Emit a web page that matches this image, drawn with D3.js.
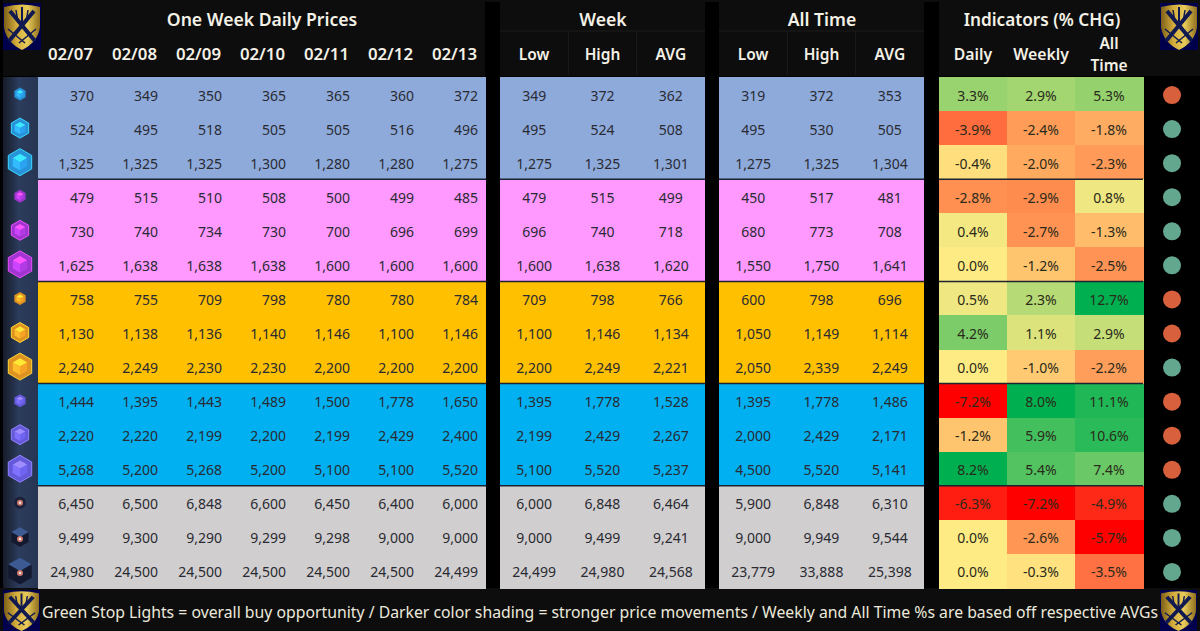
<!DOCTYPE html>
<html lang="en">
<head>
<meta charset="utf-8">
<title>One Week Daily Prices</title>
<script src="https://d3js.org/d3.v7.min.js"></script>
<style>
  html, body { margin: 0; padding: 0; background: #000; }
  svg { display: block; }
  text { font-family: "Noto Sans", sans-serif; }
</style>
</head>
<body>
<div id="vis"></div>
<script>
// table values
var dates = ["02/07", "02/08", "02/09", "02/10", "02/11", "02/12", "02/13"];
var statCols = ["Low", "High", "AVG"];
var indicatorCols = ["Daily", "Weekly", "All Time"];
var tierColors = ["#8eaadb", "#ff99ff", "#ffc000", "#00b0f0", "#d0cece"];
var iconColors = ["#2ba3f0", "#b23be6", "#f7a325", "#6f63f2", "#3d5a92"];

var daily = [
  [370, 349, 350, 365, 365, 360, 372],
  [524, 495, 518, 505, 505, 516, 496],
  [1325, 1325, 1325, 1300, 1280, 1280, 1275],
  [479, 515, 510, 508, 500, 499, 485],
  [730, 740, 734, 730, 700, 696, 699],
  [1625, 1638, 1638, 1638, 1600, 1600, 1600],
  [758, 755, 709, 798, 780, 780, 784],
  [1130, 1138, 1136, 1140, 1146, 1100, 1146],
  [2240, 2249, 2230, 2230, 2200, 2200, 2200],
  [1444, 1395, 1443, 1489, 1500, 1778, 1650],
  [2220, 2220, 2199, 2200, 2199, 2429, 2400],
  [5268, 5200, 5268, 5200, 5100, 5100, 5520],
  [6450, 6500, 6848, 6600, 6450, 6400, 6000],
  [9499, 9300, 9290, 9299, 9298, 9000, 9000],
  [24980, 24500, 24500, 24500, 24500, 24500, 24499]
];
var week = [
  [349, 372, 362], [495, 524, 508], [1275, 1325, 1301],
  [479, 515, 499], [696, 740, 718], [1600, 1638, 1620],
  [709, 798, 766], [1100, 1146, 1134], [2200, 2249, 2221],
  [1395, 1778, 1528], [2199, 2429, 2267], [5100, 5520, 5237],
  [6000, 6848, 6464], [9000, 9499, 9241], [24499, 24980, 24568]
];
var allTime = [
  [319, 372, 353], [495, 530, 505], [1275, 1325, 1304],
  [450, 517, 481], [680, 773, 708], [1550, 1750, 1641],
  [600, 798, 696], [1050, 1149, 1114], [2050, 2339, 2249],
  [1395, 1778, 1486], [2000, 2429, 2171], [4500, 5520, 5141],
  [5900, 6848, 6310], [9000, 9949, 9544], [23779, 33888, 25398]
];
var indicators = [
  [3.3, 2.9, 5.3], [-3.9, -2.4, -1.8], [-0.4, -2.0, -2.3],
  [-2.8, -2.9, 0.8], [0.4, -2.7, -1.3], [0.0, -1.2, -2.5],
  [0.5, 2.3, 12.7], [4.2, 1.1, 2.9], [0.0, -1.0, -2.2],
  [-7.2, 8.0, 11.1], [-1.2, 5.9, 10.6], [8.2, 5.4, 7.4],
  [-6.3, -7.2, -4.9], [0.0, -2.6, -5.7], [0.0, -0.3, -3.5]
];
// r = red light, g = green light
var lights = ["r", "g", "g", "g", "g", "g", "r", "r", "g", "r", "r", "r", "g", "g", "g"];
var footnote = "Green Stop Lights = overall buy opportunity / Darker color shading = stronger price movements / Weekly and All Time %s are based off respective AVGs";

var width = 1200, height = 631;
var svg = d3.select("#vis").append("svg").attr("width", width).attr("height", height);
var defs = svg.append("defs");

var gold = defs.append("linearGradient").attr("id", "gold");
gold.append("stop").attr("offset", "0%").attr("stop-color", "#7d5f18");
gold.append("stop").attr("offset", "35%").attr("stop-color", "#d4ad3c");
gold.append("stop").attr("offset", "65%").attr("stop-color", "#e8cb5a");
gold.append("stop").attr("offset", "100%").attr("stop-color", "#8f6f1e");

var iconBg = defs.append("linearGradient").attr("id", "iconBg").attr("x2", "1").attr("y2", "0");
iconBg.append("stop").attr("offset", "0%").attr("stop-color", "#161b28");
iconBg.append("stop").attr("offset", "45%").attr("stop-color", "#2c3c5c");
iconBg.append("stop").attr("offset", "100%").attr("stop-color", "#263552");

// page background
svg.append("rect").attr("width", width).attr("height", height).attr("fill", "#000");
svg.append("rect").attr("x", 3).attr("width", 1197).attr("height", 76).attr("fill", "#0d0d0d");
svg.append("rect").attr("y", 588).attr("width", width).attr("height", 43).attr("fill", "#0d0d0d");
[[485, 15], [705, 14], [924, 15]].forEach(function (d) {
  svg.append("rect").attr("x", d[0]).attr("y", 2).attr("width", d[1]).attr("height", 586).attr("fill", "#000");
});

// scales
var rowY = d3.scaleBand().domain(d3.range(15)).range([77, 588]);
var xDaily = d3.scaleBand().domain(d3.range(7)).range([38, 486]);
var xWeek = d3.scaleBand().domain(d3.range(3)).range([500, 705]);
var xAll = d3.scaleBand().domain(d3.range(3)).range([719, 924]);
var xInd = d3.scaleBand().domain(d3.range(3)).range([939, 1143]);
var fmt = d3.format(",");
var tierOf = function (i) { return Math.floor(i / 3); };

// excel style 3 colour scale, each indicator column has its own min and max
var colorInd = d3.range(3).map(function (c) {
  var ext = d3.extent(indicators, function (r) { return r[c]; });
  if (c === 2) {
    // all time reds ramp up late in the reference
    return d3.scaleLinear().domain([ext[0], -3.5, 0, ext[1]]).range(["#ff0000", "#ff7043", "#ffeb84", "#00b050"]);
  }
  return d3.scaleLinear().domain([ext[0], 0, ext[1]]).range(["#ff0000", "#ffeb84", "#00b050"]);
});

// tier bands behind each block of values
[xDaily, xWeek, xAll].forEach(function (x) {
  svg.append("g").attr("shape-rendering", "crispEdges").selectAll("rect").data(d3.range(15)).join("rect")
    .attr("x", x.range()[0]).attr("y", function (i) { return rowY(i); })
    .attr("width", x.range()[1] - x.range()[0]).attr("height", rowY.bandwidth() + 0.5)
    .attr("fill", function (i) { return tierColors[tierOf(i)]; });
});

function valueRows(rows, x, anchor) {
  rows.forEach(function (row, i) {
    svg.append("g").selectAll("text").data(row).join("text")
      .attr("x", function (d, c) { return anchor === "end" ? x(c) + x.bandwidth() - 8 : x(c) + x.bandwidth() / 2; })
      .attr("y", rowY(i) + rowY.bandwidth() / 2 + 6.5)
      .attr("text-anchor", anchor)
      .attr("font-size", 14)
      .attr("fill", "#2a2a33")
      .text(function (d) { return fmt(d); });
  });
}
valueRows(daily, xDaily, "end");
valueRows(week, xWeek, "middle");
valueRows(allTime, xAll, "middle");

// indicator heat cells
indicators.forEach(function (row, i) {
  var g = svg.append("g");
  g.selectAll("rect").data(row).join("rect")
    .attr("shape-rendering", "crispEdges")
    .attr("x", function (d, c) { return xInd(c); })
    .attr("y", rowY(i)).attr("width", xInd.bandwidth() + 0.5).attr("height", rowY.bandwidth() + 0.5)
    .attr("fill", function (d, c) { return colorInd[c](d); });
  g.selectAll("text").data(row).join("text")
    .attr("x", function (d, c) { return xInd(c) + xInd.bandwidth() / 2; })
    .attr("y", rowY(i) + rowY.bandwidth() / 2 + 6.5)
    .attr("text-anchor", "middle").attr("font-size", 14)
    .attr("fill", "#2a2a1a")
    .text(function (d) { return d.toFixed(1) + "%"; });
});

// separators between tiers
[3, 6, 9, 12].forEach(function (i) {
  [[38, 486], [500, 705], [719, 924], [939, 1143]].forEach(function (p) {
    svg.append("line").attr("x1", p[0]).attr("x2", p[1])
      .attr("y1", rowY(i)).attr("y2", rowY(i))
      .attr("stroke", "#1b2230").attr("stroke-width", 1.5);
  });
});

// stop lights
svg.append("g").selectAll("circle").data(lights).join("circle")
  .attr("cx", 1172).attr("cy", function (d, i) { return rowY(i) + rowY.bandwidth() / 2 + 1; })
  .attr("r", 9)
  .attr("fill", function (d) { return d === "r" ? "#d9603c" : "#64a78f"; });

// tier icons
svg.append("rect").attr("x", 3).attr("y", 77).attr("width", 35).attr("height", 511).attr("fill", "url(#iconBg)");
var hex = function (r) {
  return d3.range(6).map(function (k) {
    var a = Math.PI / 3 * k - Math.PI / 2;
    return [r * Math.cos(a), r * Math.sin(a)];
  });
};
d3.range(15).forEach(function (i) {
  var t = tierOf(i), size = [6.5, 10, 13.5][i % 3];
  var base = d3.color(iconColors[t]);
  var g = svg.append("g")
    .attr("transform", "translate(20," + (rowY(i) + rowY.bandwidth() / 2) + ")");
  var h = hex(size);
  if (t === 4) {
    // dark cubes with a glowing core
    if (i % 3) {
      g.append("path").attr("d", d3.line()(h) + "Z").attr("fill", "#131a30");
      g.append("path").attr("d", d3.line()([h[0], h[1], [0, 0], h[5]]) + "Z").attr("fill", base);
    } else {
      g.append("circle").attr("r", 6).attr("fill", "#1a2038");
    }
    g.append("circle").attr("cy", i % 3 ? 2 : 0).attr("r", 3).attr("fill", "#c9766c");
    g.append("circle").attr("cy", i % 3 ? 2 : 0).attr("r", 1.3).attr("fill", "#f4dcd8");
    return;
  }
  g.append("path").attr("d", d3.line()(h) + "Z").attr("fill", base.darker(0.3))
    .attr("stroke", base.brighter(0.8)).attr("stroke-width", i % 3 ? 1 : 0);
  var top = hex(size * 0.62);
  g.append("path").attr("d", d3.line()([top[0], top[1], [0, 0], top[5]]) + "Z").attr("fill", base.brighter(1));
  g.append("path").attr("d", d3.line()([[0, 0], top[1], top[2], top[3]]) + "Z").attr("fill", base);
  g.append("path").attr("d", d3.line()([[0, 0], top[3], top[4], top[5]]) + "Z").attr("fill", base.brighter(0.4));
});

// headers
function header(txt, x, y, size, anchor) {
  svg.append("text").attr("x", x).attr("y", y).attr("text-anchor", anchor || "middle")
    .attr("font-size", size || 14).attr("font-weight", 600).attr("fill", "#f4f1e6").text(txt);
}
header("One Week Daily Prices", 262, 26, 17.6);
header("Week", 603, 26, 17.6);
header("All Time", 822, 26, 17.6);
header("Indicators (% CHG)", 1042, 26, 17.2);

dates.forEach(function (d, c) { header(d, xDaily(c) + xDaily.bandwidth() - 9, 60, 16.8, "end"); });
[xWeek, xAll].forEach(function (x) {
  statCols.forEach(function (d, c) {
    header(d, x(c) + x.bandwidth() / 2, 60, 15.5);
    if (c > 0) svg.append("line").attr("x1", x(c)).attr("x2", x(c)).attr("y1", 31).attr("y2", 75).attr("stroke", "#1c1c1c");
  });
  svg.append("line").attr("x1", x.range()[0]).attr("x2", x.range()[1]).attr("y1", 31).attr("y2", 31).attr("stroke", "#1c1c1c");
});
header(indicatorCols[0], xInd(0) + xInd.bandwidth() / 2, 60, 15.8);
header(indicatorCols[1], xInd(1) + xInd.bandwidth() / 2, 60, 15.8);
indicatorCols[2].split(" ").forEach(function (w, k) {
  header(w, xInd(2) + xInd.bandwidth() / 2, 49 + k * 22, 15.5);
});

// footer note
svg.append("text").attr("x", 42).attr("y", 618).attr("font-size", 16)
  .attr("fill", "#ece9dc").attr("textLength", 1116).attr("lengthAdjust", "spacingAndGlyphs").text(footnote);

// shield logos
function shield(x, y, w, h) {
  var g = svg.append("g").attr("transform", "translate(" + x + "," + y + ") scale(" + (w / 38) + "," + (h / 47) + ")");
  g.append("rect").attr("width", 38).attr("height", 47).attr("fill", "#00004d");
  g.append("path").attr("d", "M1,4 Q19,-1 37,4 L37,24 Q35,39 19,47 Q3,39 1,24 Z").attr("fill", "url(#gold)");
  g.selectAll("line.s").data([[7, 8, 32, 38, 4], [31, 8, 6, 38, 4], [5, 26, 22, 40, 1.5], [33, 26, 16, 40, 1.5], [19, 4, 19, 20, 2], [13, 7, 15, 20, 1.5], [25, 7, 23, 20, 1.5]])
    .join("line")
    .attr("x1", function (d) { return d[0]; }).attr("y1", function (d) { return d[1]; })
    .attr("x2", function (d) { return d[2]; }).attr("y2", function (d) { return d[3]; })
    .attr("stroke-width", function (d) { return d[4]; })
    .attr("stroke", "#101a50");
}
shield(3, 3, 38, 47);
shield(1160, 3, 38, 47);
shield(3, 590, 37, 41);
shield(1160, 590, 37, 41);
</script>
</body>
</html>
